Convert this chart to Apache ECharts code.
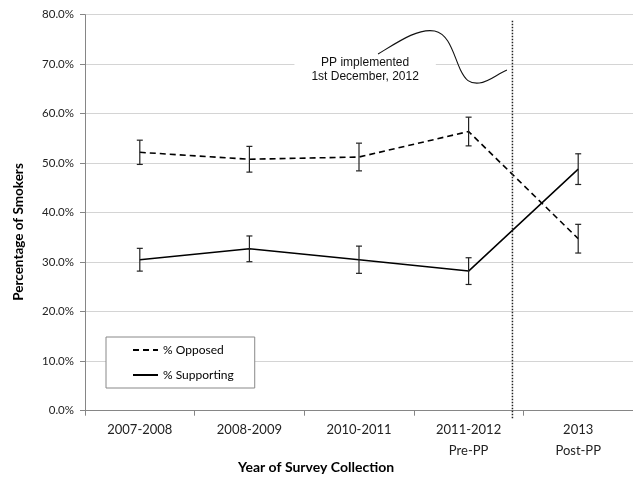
<!DOCTYPE html>
<html><head><meta charset="utf-8">
<script src="https://cdn.jsdelivr.net/npm/echarts@6/dist/echarts.min.js"></script>
<style>html,body{margin:0;padding:0;background:#fff}#c{width:633px;height:479px}</style>
</head><body><div id="c"></div>
<script>
const categories = ['2007-2008', '2008-2009', '2010-2011', '2011-2012\nPre-PP', '2013\nPost-PP'];
const opposed = [52.2, 50.8, 51.25, 56.4, 34.75];
const opposedErr = [2.45, 2.6, 2.8, 2.9, 2.9];
const supporting = [30.5, 32.7, 30.5, 28.2, 48.8];
const supportingErr = [2.3, 2.6, 2.75, 2.7, 3.1];
const seriesNames = ['% Opposed', '% Supporting'];
const yMin = 0, yMax = 80, yInterval = 10;
const xTitle = 'Year of Survey Collection';
const yTitle = 'Percentage of Smokers';
// policy line position (in category units), annotation text & curve (data units)
const ppLineX = 3.40;
const ppLineTop = 78.8;
const annotationText = 'PP implemented\n1st December, 2012';
const annotationAnchor = [2.056, 68.8];
const annotationCurve = [
  [2.174, 72.06],
  [2.355, 74.49], [2.536, 77.31], [2.690, 76.71],
  [2.826, 76.10], [2.862, 71.86], [2.926, 68.83],
  [2.971, 66.81], [3.007, 66.00], [3.098, 66.20],
  [3.188, 66.40], [3.261, 68.02], [3.35, 68.83]
];

const errData = (vals, errs) => vals.map((v, i) => [i, v - errs[i], v + errs[i]]);

function errRender(params, api) {
  const i = api.value(0), lo = api.value(1), hi = api.value(2);
  const t = api.coord([i, hi]), b = api.coord([i, lo]);
  const w = 3;
  const st = { stroke: '#222', lineWidth: 1.2 };
  return { type: 'group', children: [
    { type: 'line', shape: { x1: t[0], y1: t[1], x2: b[0], y2: b[1] }, style: st },
    { type: 'line', shape: { x1: t[0] - w, y1: t[1], x2: t[0] + w, y2: t[1] }, style: st },
    { type: 'line', shape: { x1: b[0] - w, y1: b[1], x2: b[0] + w, y2: b[1] }, style: st }
  ]};
}

const chart = echarts.init(document.getElementById('c'), null, { renderer: 'canvas' });
const FONT = 'Lato, "Open Sans", sans-serif';
chart.setOption({
  backgroundColor: '#fff',
  animation: false,
  grid: { left: 85, width: 552, top: 14.7, bottom: 68.3, containLabel: false },
  xAxis: [{
    type: 'category', data: categories, boundaryGap: true,
    axisLine: { onZero: false, lineStyle: { color: '#868686', width: 1 } },
    axisTick: { show: true, length: 5, lineStyle: { color: '#868686' } },
    axisLabel: { color: '#222', fontFamily: FONT, fontSize: 13, lineHeight: 21, margin: 9, interval: 0 },
    splitLine: { show: false }
  }, {
    type: 'value', min: -0.5, max: 4.5, show: false
  }],
  yAxis: {
    type: 'value', min: yMin, max: yMax, interval: yInterval,
    axisLine: { show: true, onZero: false, lineStyle: { color: '#868686' } },
    axisTick: { show: true, length: 5, lineStyle: { color: '#868686' } },
    axisLabel: { color: '#222', fontFamily: FONT, fontSize: 11.5, margin: 11, formatter: v => v.toFixed(1) + '%' },
    splitLine: { show: true, lineStyle: { color: '#d4d4d4', width: 1 } }
  },
  legend: {
    data: seriesNames, orient: 'vertical', left: 106, top: 337,
    backgroundColor: '#fff', borderColor: '#888', borderWidth: 1, borderRadius: 0,
    padding: [7, 21, 7, 26], itemWidth: 25, itemHeight: 14, itemGap: 13,
    itemStyle: { opacity: 0 },
    textStyle: { color: '#000', fontFamily: FONT, fontSize: 12 },
    selectedMode: false
  },
  graphic: [
    { type: 'text', x: 18.5, y: 232, rotation: Math.PI / 2,
      style: { text: yTitle, font: 'bold 13.5px ' + FONT, fill: '#000', align: 'center', verticalAlign: 'middle' } },
    { type: 'text', x: 316, y: 467,
      style: { text: xTitle, font: 'bold 14px ' + FONT, fill: '#000', align: 'center', verticalAlign: 'middle' } }
  ],
  series: [
    { name: seriesNames[0], type: 'line', data: opposed, symbol: 'none', z: 3,
      lineStyle: { color: '#000', width: 1.6, type: [6, 4] }, itemStyle: { color: '#000' } },
    { name: seriesNames[1], type: 'line', data: supporting, symbol: 'none', z: 3,
      lineStyle: { color: '#000', width: 1.5, type: 'solid' }, itemStyle: { color: '#000' } },
    { type: 'custom', name: 'errO', data: errData(opposed, opposedErr), renderItem: errRender,
      encode: { x: 0, y: [1, 2] }, z: 4, silent: true },
    { type: 'custom', name: 'errS', data: errData(supporting, supportingErr), renderItem: errRender,
      encode: { x: 0, y: [1, 2] }, z: 4, silent: true },
    { type: 'custom', name: 'ppLine', xAxisIndex: 1, data: [[ppLineX, ppLineTop]], clip: false, z: 5, silent: true,
      renderItem: (p, api) => {
        const t = api.coord([api.value(0), api.value(1)]);
        const b = api.coord([api.value(0), yMin]);
        return { type: 'line', shape: { x1: t[0], y1: t[1], x2: b[0], y2: b[1] + 7.5 },
          style: { stroke: '#222', lineWidth: 1.5, lineDash: [1.5, 1.5] } };
      } },
    { type: 'custom', name: 'annot', xAxisIndex: 1, data: [annotationAnchor], clip: false, z: 2, silent: true,
      renderItem: (p, api) => {
        const a = api.coord([api.value(0), api.value(1)]);
        const pts = annotationCurve.map(q => api.coord(q));
        let d = 'M' + pts[0][0] + ' ' + pts[0][1];
        for (let k = 1; k + 2 < pts.length; k += 3) {
          d += ' C' + pts[k][0] + ' ' + pts[k][1] + ' ' + pts[k + 1][0] + ' ' + pts[k + 1][1] + ' ' + pts[k + 2][0] + ' ' + pts[k + 2][1];
        }
        return { type: 'group', children: [
          { type: 'text', x: a[0], y: a[1],
            style: { text: annotationText, font: '12px "Liberation Sans", Arial, sans-serif', fill: '#111',
              align: 'center', verticalAlign: 'middle', lineHeight: 14,
              backgroundColor: '#fff', padding: [2, 17] } },
          { type: 'path', shape: { pathData: d }, style: { stroke: '#111', lineWidth: 1.1, fill: null } }
        ]};
      } }
  ]
});
</script></body></html>
